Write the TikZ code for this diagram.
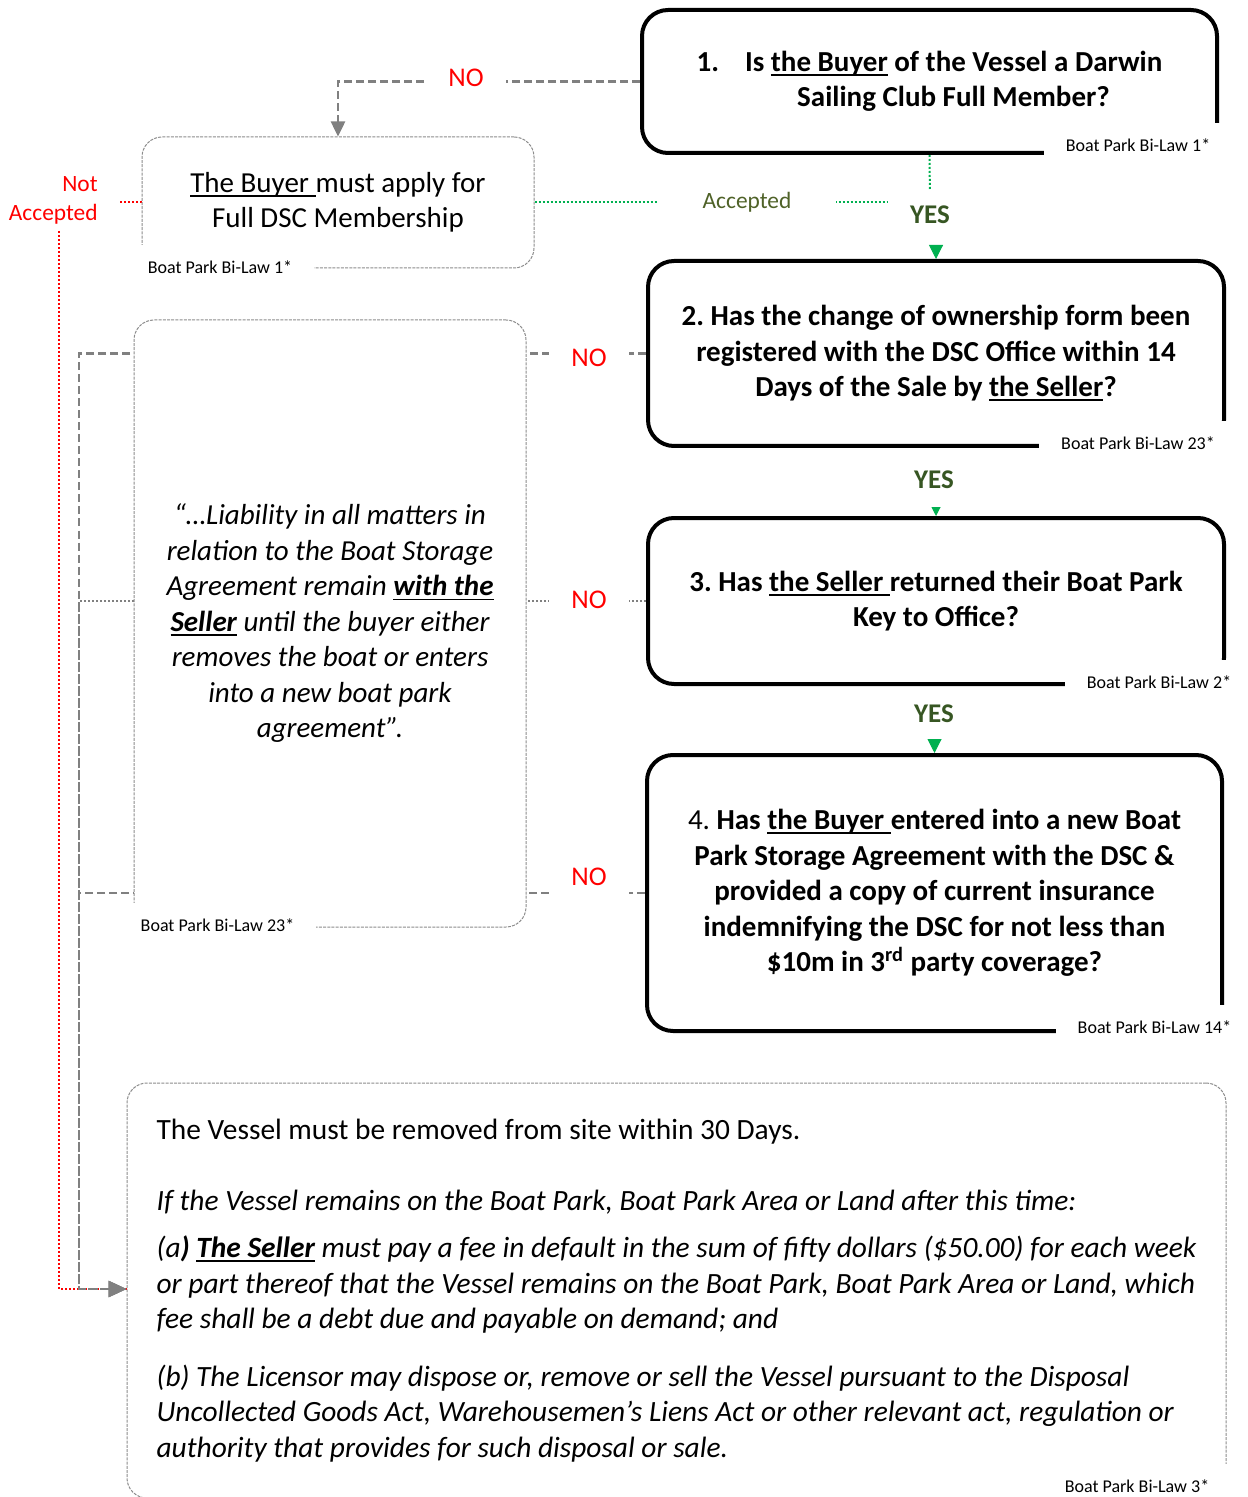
\documentclass[tikz,border=0pt]{standalone}
\usepackage{fontspec}
\setmainfont{Carlito}
\usetikzlibrary{arrows.meta,backgrounds,positioning}

\definecolor{noRed}{RGB}{255,0,0}
\definecolor{yesGreen}{RGB}{55,86,35}
\definecolor{accGreen}{RGB}{79,98,40}
\definecolor{tipGreen}{RGB}{0,176,80}
\definecolor{linkGray}{RGB}{128,128,128}
\definecolor{boxGray}{RGB}{140,140,140}

\frenchspacing
\newcommand{\bodyfont}{\fontsize{14.5}{17.75}\selectfont}
\newsavebox{\undlbox}
\newcommand{\undl}[1]{\sbox{\undlbox}{#1}\rlap{\rule[-2.2pt]{\wd\undlbox}{0.9pt}}\usebox{\undlbox}}

\tikzset{
  question/.style={draw, line width=2pt, rounded corners=13pt, align=center,
    font=\bodyfont\bfseries, inner sep=0pt},
  notebox/.style={draw=boxGray, line width=0.5pt, dash pattern=on 1.5pt off 0.6pt,
    rounded corners=10pt, fill=white, font=\bodyfont, inner sep=0pt},
  law/.style={fill=white, inner xsep=11pt, inner ysep=0pt, minimum height=22pt,
    font=\fontsize{9}{11}\selectfont},
  nolabel/.style={fill=white, text=noRed, font=\fontsize{13.5}{16}\selectfont,
    minimum width=40pt, minimum height=20pt, inner sep=0pt},
  yeslabel/.style={text=yesGreen, font=\fontsize{13.5}{16}\selectfont\bfseries, inner sep=2pt},
  nodash/.style={draw=linkGray, line width=1.25pt, dash pattern=on 4pt off 2pt},
  nodot/.style={draw=linkGray, line width=1pt, dash pattern=on 1pt off 1pt},
  grayhead/.style={-{Triangle[width=8pt,length=9pt]}},
  greenlink/.style={draw=tipGreen, line width=1pt, dash pattern=on 1pt off 1pt},
  redlink/.style={draw=noRed, line width=1pt, dash pattern=on 1pt off 1pt},
  greentip/.style={draw=tipGreen, line width=0.5pt, -{Triangle[width=#1,length=#1]}},
}

\begin{document}
\begin{tikzpicture}[x=0.5pt, y=-0.5pt]
        \useasboundingbox (0,0) rectangle (1247,1497);

        % Questions
        \node[question, minimum width=287.5pt, minimum height=71.5pt] (q1) at (929.5,81.5)
            {1.\hspace{13pt}Is \undl{the Buyer} of the Vessel a Darwin\\\hspace*{24pt}Sailing Club Full Member?};
        \node[question, minimum width=288pt, minimum height=92.5pt] (q2) at (936,353.5)
            {2. Has the change of ownership form been\\registered with the DSC Office within 14\\Days of the Sale by \undl{the Seller}?};
        \node[question, minimum width=288pt, minimum height=83pt] (q3) at (936,601)
            {3. Has \undl{the Seller }returned their Boat Park\\Key to Office?};
        \node[question, minimum width=287.5pt, minimum height=138pt] (q4) at (934.5,893)
            {{\mdseries 4.} Has \undl{the Buyer }entered into a new Boat\\Park Storage Agreement with the DSC \&\\provided a copy of current insurance\\indemnifying the DSC for not less than\\\$10m in 3\textsuperscript{rd} party coverage?};

        % Notes
        \node[notebox, align=center, minimum width=196pt, minimum height=65.5pt] (apply) at (338,202.5)
            {\undl{The Buyer }must apply for\\Full DSC Membership};
        \node[notebox, align=center, font=\bodyfont\itshape, minimum width=196pt, minimum height=303.5pt] (liab) at (330,623.5)
            {“…Liability in all matters in\\relation to the Boat Storage\\Agreement remain \textbf{\undl{with the}}\\\textbf{\undl{Seller}} until the buyer either\\removes the boat or enters\\into a new boat park\\agreement”.};
        \node[notebox, align=left, font=\fontsize{14.7}{17.75}\selectfont, minimum width=549.5pt, minimum height=207.5pt] (bottom) at (676.5,1290.5)
            {The Vessel must be removed from site within 30 Days.\\[17.75pt]
            \itshape If the Vessel remains on the Boat Park, Boat Park Area or Land after this time:\\[6pt]
            \itshape (a\textbf{)} \textbf{\undl{The Seller}} must pay a fee in default in the sum of fifty dollars (\$50.00) for each week\\
            \itshape or part thereof that the Vessel remains on the Boat Park, Boat Park Area or Land, which\\
            \itshape fee shall be a debt due and payable on demand; and\\[11pt]
            \itshape (b) The Licensor may dispose or, remove or sell the Vessel pursuant to the Disposal\\
            \itshape Uncollected Goods Act, Warehousemen’s Liens Act or other relevant act, regulation or\\
            \itshape authority that provides for such disposal or sale.};

        % By-law references
        \node[law] (law1) at (1138,145) {Boat Park Bi-Law 1*};
        \node[law] (law2) at (1138,443) {Boat Park Bi-Law 23*};
        \node[law] (law3) at (1159,682) {Boat Park Bi-Law 2*};
        \node[law] (law4) at (1154.5,1027) {Boat Park Bi-Law 14*};
        \node[law] (lawA) at (220,267) {Boat Park Bi-Law 1*};
        \node[law] (lawL) at (217.5,925) {Boat Park Bi-Law 23*};
        \node[law] (lawB) at (1137,1486) {Boat Park Bi-Law 3*};

        % Labels
        \node[nolabel] (no1) at (466,78) {NO};
        \node[nolabel] (no2) at (589,358) {NO};
        \node[nolabel] (no3) at (589,600) {NO};
        \node[nolabel] (no4) at (589,877) {NO};
        \node[yeslabel] (yes1) at (930,215) {YES};
        \node[yeslabel] (yes2) at (934,480) {YES};
        \node[yeslabel] (yes3) at (934,714) {YES};
        \node[fill=white, text=accGreen, font=\fontsize{11.7}{14}\selectfont, minimum width=89pt] (acc) at (747,202) {Accepted};
        \node[text=noRed, font=\fontsize{11.7}{14.5}\selectfont, align=right, inner xsep=10pt, anchor=east] (notacc) at (118,200) {Not\\Accepted};
        \coordinate (trunk) at (79,1289);

        % Connectors
        \begin{scope}[on background layer]
            \draw[nodash, -{Triangle[width=7pt,length=7.5pt]}] (q1.west) -| (apply.north);
            \draw[greenlink, shorten >=6pt] (q1.south) -- (yes1.north);
            \draw[greenlink, shorten >=9pt] (apply.east) -- (apply.east -| yes1.west);
            \draw[greentip=7pt, shorten <=10pt] (q2.north |- yes1.south) -- (q2.north);
            \draw[greentip=4.5pt, shorten <=10pt] (q3.north |- yes2.south) -- (q3.north);
            \draw[greentip=7pt, shorten <=10pt] (q4.north |- yes3.south) -- (q4.north);
            \draw[redlink] (apply.west) -- (apply.west -| notacc.east);
            \draw[redlink] ([xshift=3pt]notacc.south) |- (trunk -| bottom.west);
            \draw[nodash, grayhead] (q2.west) -| (trunk) -- (trunk -| bottom.west);
            \draw[nodot, grayhead] (q3.west) -| (trunk) -- (trunk -| bottom.west);
            \draw[nodash, grayhead] (q4.west) -| (trunk) -- (trunk -| bottom.west);
        \end{scope}

\end{tikzpicture}
\end{document}
